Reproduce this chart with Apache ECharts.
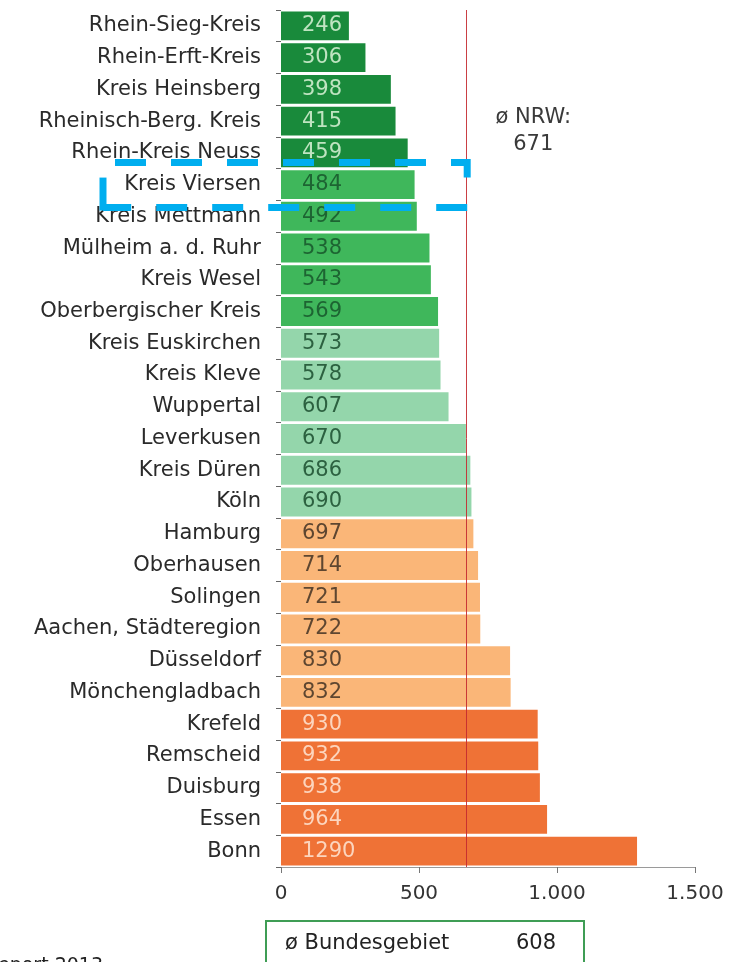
<!DOCTYPE html>
<html>
<head>
<meta charset="utf-8">
<script src="https://cdn.jsdelivr.net/npm/echarts@6/dist/echarts.min.js"></script>
<style>
  html, body { margin: 0; padding: 0; background: #ffffff; }
  #chart { width: 731px; height: 962px; }
</style>
</head>
<body>
<div id="chart"></div>
<script>
// Districts and cities, ordered from lowest to highest value
const categories = [
  'Rhein-Sieg-Kreis', 'Rhein-Erft-Kreis', 'Kreis Heinsberg', 'Rheinisch-Berg. Kreis',
  'Rhein-Kreis Neuss', 'Kreis Viersen', 'Kreis Mettmann', 'Mülheim a. d. Ruhr',
  'Kreis Wesel', 'Oberbergischer Kreis', 'Kreis Euskirchen', 'Kreis Kleve',
  'Wuppertal', 'Leverkusen', 'Kreis Düren', 'Köln', 'Hamburg', 'Oberhausen',
  'Solingen', 'Aachen, Städteregion', 'Düsseldorf', 'Mönchengladbach',
  'Krefeld', 'Remscheid', 'Duisburg', 'Essen', 'Bonn'
];
const values = [
  246, 306, 398, 415, 459, 484, 492, 538, 543, 569, 573, 578, 607,
  670, 686, 690, 697, 714, 721, 722, 830, 832, 930, 932, 938, 964, 1290
];
// Class of each entry (0 = lowest group ... 4 = highest group)
const tiers = [
  0, 0, 0, 0, 0, 1, 1, 1, 1, 1, 2, 2, 2, 2, 2, 2,
  3, 3, 3, 3, 3, 3, 4, 4, 4, 4, 4
];
const xTicks = [0, 500, 1000, 1500];
const nrwAverage = 671;
const federalAverage = 608;
const highlighted = 'Kreis Viersen';

const FONT = 'DejaVu Sans';
const palette = [
  { bar: '#198a3b', text: '#bfe4c1' },
  { bar: '#3fb75b', text: '#1d6432' },
  { bar: '#94d6ab', text: '#2c6140' },
  { bar: '#fab678', text: '#5e4630' },
  { bar: '#ef7236', text: '#fcd5be' }
];

function formatThousands(v) {
  if (v < 1000) return String(v);
  return Math.floor(v / 1000) + '.' + String(v % 1000).padStart(3, '0');
}

const chart = echarts.init(document.getElementById('chart'), null, { renderer: 'canvas' });

const seriesData = values.map((v, i) => ({
  value: v,
  itemStyle: { color: palette[tiers[i]].bar },
  label: { color: palette[tiers[i]].text }
}));

chart.setOption({
  animation: false,
  backgroundColor: '#ffffff',
  grid: { left: 281, right: 36, top: 10, bottom: 95 },
  xAxis: {
    type: 'value',
    min: xTicks[0],
    max: xTicks[xTicks.length - 1],
    interval: xTicks[1] - xTicks[0],
    splitLine: { show: false },
    axisLine: { show: true, lineStyle: { color: '#9a9a9a', width: 1 } },
    axisTick: { show: true, length: 6, lineStyle: { color: '#777' } },
    axisLabel: {
      margin: 17,
      fontFamily: FONT,
      fontSize: 20,
      color: '#333',
      formatter: formatThousands
    }
  },
  yAxis: {
    type: 'category',
    inverse: true,
    data: categories,
    axisLine: { show: false },
    axisTick: { show: true, length: 5, lineStyle: { color: '#666' } },
    axisLabel: {
      margin: 20,
      fontFamily: FONT,
      fontSize: 21,
      color: '#2a2a2a'
    }
  },
  series: [{
    type: 'bar',
    data: seriesData,
    barCategoryGap: '9%',
    label: {
      show: true,
      position: 'insideLeft',
      distance: 21,
      fontFamily: FONT,
      fontSize: 21
    },
    markLine: {
      silent: true,
      symbol: 'none',
      label: { show: false },
      lineStyle: { color: '#c42a30', width: 1, type: 'solid', opacity: 0.9 },
      data: [{ xAxis: nrwAverage }]
    }
  }]
});

// Annotations placed relative to the axes
const lineX = chart.convertToPixel({ xAxisIndex: 0 }, nrwAverage);
const rowY = chart.convertToPixel({ yAxisIndex: 0 }, highlighted);
const boxTop = rowY - 22;
const boxBottom = rowY + 23;
const boxRight = lineX + 1;
const boxLeft = 103;
const dashStyle = {
  stroke: '#00aeef',
  lineWidth: 7,
  fill: null,
  lineDash: [31, 25],
  lineCap: 'butt'
};

chart.setOption({
  graphic: [
    {
      type: 'text',
      x: lineX + 67,
      y: 104,
      style: {
        text: 'ø NRW:\n' + nrwAverage,
        fontFamily: FONT,
        fontSize: 21,
        lineHeight: 27,
        fill: '#3a3a3a',
        align: 'center',
        textAlign: 'center'
      }
    },
    {
      type: 'polyline',
      shape: { points: [[115, boxTop], [boxRight, boxTop], [boxRight, boxTop + 18]] },
      style: dashStyle,
      z: 100
    },
    {
      type: 'polyline',
      shape: { points: [[boxRight, boxBottom], [boxLeft, boxBottom]] },
      style: dashStyle,
      z: 100
    },
    {
      type: 'line',
      shape: { x1: boxLeft, y1: boxTop + 15, x2: boxLeft, y2: boxBottom + 3 },
      style: { stroke: '#00aeef', lineWidth: 7 },
      z: 100
    },
    {
      type: 'rect',
      shape: { x: 266, y: 921, width: 318, height: 70 },
      style: { fill: null, stroke: '#3f9d55', lineWidth: 2 }
    },
    {
      type: 'text',
      x: 285,
      y: 944,
      style: {
        text: 'ø Bundesgebiet',
        fontFamily: FONT,
        fontSize: 21,
        fill: '#222',
        textVerticalAlign: 'middle',
        verticalAlign: 'middle'
      }
    },
    {
      type: 'text',
      x: 556,
      y: 944,
      style: {
        text: String(federalAverage),
        fontFamily: FONT,
        fontSize: 21,
        fill: '#222',
        align: 'right',
        textAlign: 'right',
        verticalAlign: 'middle',
        textVerticalAlign: 'middle'
      }
    },
    {
      type: 'text',
      x: 103,
      y: 957,
      style: {
        text: 'report 2013',
        fontFamily: FONT,
        fontSize: 19,
        fill: '#222',
        align: 'right',
        textAlign: 'right',
        verticalAlign: 'top',
        textVerticalAlign: 'top'
      }
    }
  ]
});
</script>
</body>
</html>
